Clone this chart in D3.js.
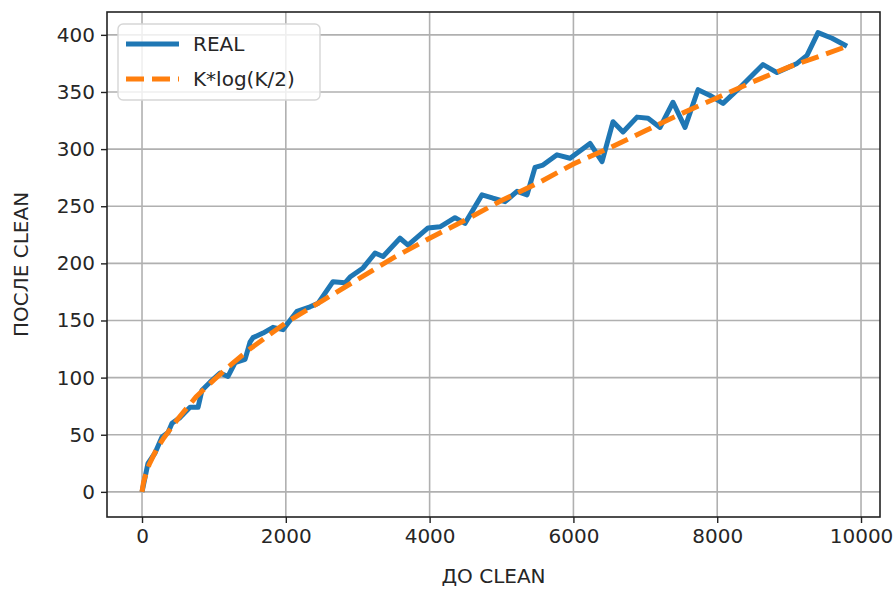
<!DOCTYPE html>
<html>
<head>
<meta charset="utf-8">
<script src="https://cdn.jsdelivr.net/npm/d3@7"></script>
<style>
  body { margin: 0; background: #fff; }
  text { font-family: "DejaVu Sans", sans-serif; fill: #262626; }
</style>
</head>
<body>
<div id="chart"></div>
<script>
// REAL: blue line (до clean -> после clean)
const realX = [0, 83, 181, 278, 362, 417, 529, 668, 779, 834, 946, 1085, 1196, 1293, 1433, 1502, 1544, 1683, 1822, 1961,
    2156, 2337, 2448, 2656, 2823, 2893, 3074, 3241, 3352, 3588, 3700, 3978, 4145, 4353, 4492, 4729, 4882, 5049, 5216, 5355,
    5466, 5577, 5772, 5953, 6231, 6398, 6551, 6690, 6885, 7038, 7205, 7385, 7552, 7733, 7900, 8081, 8317, 8637, 8832, 9110,
    9249, 9402, 9597, 9805];
const realY = [0, 25, 34, 48, 52, 60, 65, 74, 74, 89, 96, 104, 101, 113, 116, 131, 135, 139, 144, 142,
    158, 162, 165, 184, 183, 188, 196, 209, 206, 222, 216, 231, 232, 240, 235, 260, 257, 254, 263, 260,
    284, 286, 295, 292, 305, 289, 324, 315, 328, 327, 319, 341, 319, 352, 347, 340, 354, 374, 367, 375,
    382, 402, 397, 390];

// K*log(K/2): orange dashed fit
const fitX = [0, 20, 50, 100, 200, 300, 500, 750, 1000, 1250, 1500, 2000, 2500, 3000, 3500, 4000, 4500, 5000,
    5500, 6000, 6500, 7000, 7500, 8000, 8500, 9000, 9500, 9805];
const fitY = [0, 8, 15, 24, 37, 47, 64, 83, 98, 112, 125, 148, 167, 186, 205, 222, 238, 255,
    270, 287, 301, 316, 331, 345, 359, 372, 383, 390];

const xTicks = [0, 2000, 4000, 6000, 8000, 10000];
const yTicks = [0, 50, 100, 150, 200, 250, 300, 350, 400];
const seriesNames = ["REAL", "K*log(K/2)"];

const margin = { top: 12, right: 14, bottom: 73, left: 107 };
const width = 894 - margin.left - margin.right;
const height = 590 - margin.top - margin.bottom;

const svg = d3.select("#chart")
    .append("svg")
    .attr("width", 894)
    .attr("height", 590)
    .append("g")
    .attr("transform", `translate(${margin.left},${margin.top})`);

const x = d3.scaleLinear().domain([-487, 10264]).range([0, width]);
const y = d3.scaleLinear().domain([-22, 420]).range([height, 0]);

// grid
svg.append("g")
    .selectAll("line")
    .data(xTicks)
    .enter()
    .append("line")
    .attr("x1", d => x(d)).attr("x2", d => x(d))
    .attr("y1", 0).attr("y2", height)
    .attr("stroke", "#b0b0b0").attr("stroke-width", 1.6);

svg.append("g")
    .selectAll("line")
    .data(yTicks)
    .enter()
    .append("line")
    .attr("y1", d => y(d)).attr("y2", d => y(d))
    .attr("x1", 0).attr("x2", width)
    .attr("stroke", "#b0b0b0").attr("stroke-width", 1.6);

const line = d3.line().x(d => x(d[0])).y(d => y(d[1]));

svg.append("path")
    .datum(realX.map((v, i) => [v, realY[i]]))
    .attr("d", line)
    .attr("fill", "none")
    .attr("stroke", "#1f77b4")
    .attr("stroke-width", 5)
    .attr("stroke-linejoin", "round");

svg.append("path")
    .datum(fitX.map((v, i) => [v, fitY[i]]))
    .attr("d", line)
    .attr("fill", "none")
    .attr("stroke", "#ff7f0e")
    .attr("stroke-width", 5)
    .attr("stroke-dasharray", "18,8");

// axes
const xAxis = svg.append("g")
    .attr("transform", `translate(0,${height})`)
    .call(d3.axisBottom(x).tickValues(xTicks).tickSize(6).tickPadding(6).tickFormat(d3.format("d")));
const yAxis = svg.append("g")
    .call(d3.axisLeft(y).tickValues(yTicks).tickSize(6).tickPadding(6));

[xAxis, yAxis].forEach(a => {
    a.select(".domain").remove();
    a.selectAll("line").attr("stroke", "#222").attr("stroke-width", 1.4);
    a.selectAll("text").style("font-size", "20px").attr("fill", "#262626");
});

// frame
svg.append("rect")
    .attr("width", width).attr("height", height)
    .attr("fill", "none").attr("stroke", "#222").attr("stroke-width", 1.6);

// axis labels
svg.append("text")
    .attr("x", width / 2)
    .attr("y", height + 66)
    .attr("text-anchor", "middle")
    .style("font-size", "20px")
    .text("ДО CLEAN");

svg.append("text")
    .attr("transform", "rotate(-90)")
    .attr("x", -height / 2)
    .attr("y", -79)
    .attr("text-anchor", "middle")
    .style("font-size", "20px")
    .text("ПОСЛЕ CLEAN");

// legend
const legend = svg.append("g").attr("transform", "translate(11,12)");
legend.append("rect")
    .attr("width", 202).attr("height", 76).attr("rx", 5)
    .attr("fill", "#fff").attr("fill-opacity", 0.8)
    .attr("stroke", "#d6d6d6").attr("stroke-width", 1.4);

const rows = legend.selectAll(".row")
    .data(seriesNames)
    .enter()
    .append("g")
    .attr("transform", (d, i) => `translate(0,${20 + i * 35})`);

rows.append("line")
    .attr("x1", 8).attr("x2", 61)
    .attr("stroke", (d, i) => i === 0 ? "#1f77b4" : "#ff7f0e")
    .attr("stroke-width", 5)
    .attr("stroke-dasharray", (d, i) => i === 0 ? null : "18,8");

rows.append("text")
    .attr("x", 75)
    .attr("y", 7)
    .style("font-size", "20px")
    .text(d => d);
</script>
</body>
</html>
